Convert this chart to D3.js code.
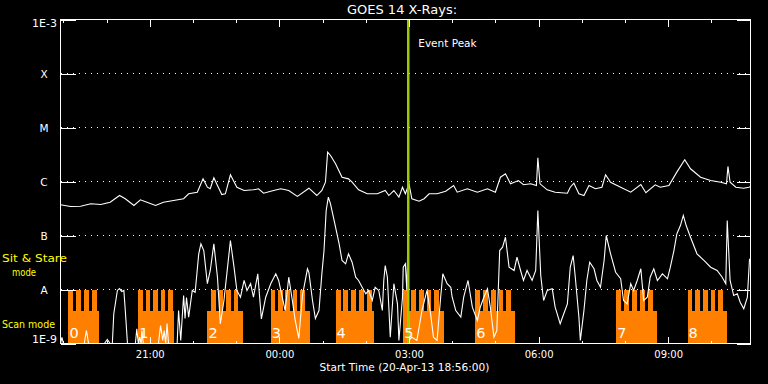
<!DOCTYPE html>
<html><head><meta charset="utf-8">
<script src="https://cdn.jsdelivr.net/npm/d3@7"></script>
<style>
html,body{margin:0;padding:0;background:#000;}
svg{display:block;}
text{font-family:"DejaVu Sans",sans-serif;fill:#fff;}
</style></head><body>
<script>
// ---------- data ----------
const title = "GOES 14 X-Rays:";
const startTime = "18:56:00";
const endTime = "10:54:20";
const eventPeak = "02:59";
const yTickValues = [1e-9, 1e-8, 1e-7, 1e-6, 1e-5, 1e-4, 1e-3];
const yTickLabels = ["1E-9", "A", "B", "C", "M", "X", "1E-3"];
const majorTimeTicks = ["21:00", "00:00", "03:00", "06:00", "09:00"];
const minorTimeTicks = ["19:00","20:00","22:00","23:00","01:00","02:00","04:00","05:00","07:00","08:00","10:00"];

const longTimes = ["18:56","19:10","19:24","19:38","19:52","20:05","20:18","20:26","20:38","20:47","20:56","21:08","21:19","21:33","21:47","21:54","22:06","22:10","22:14","22:20","22:24","22:29","22:34","22:40","22:45","22:52","23:01","23:11","23:24","23:31","23:38","23:52","00:02","00:13","00:25","00:41","00:52","00:59","01:04","01:07","01:11","01:18","01:27","01:36","01:41","01:50","02:02","02:16","02:27","02:32","02:39","02:46","02:51","02:55","03:00","03:04","03:14","03:21","03:28","03:39","03:51","04:02","04:07","04:21","04:35","04:49","05:00","05:07","05:14","05:21","05:32","05:39","05:49","05:57","05:59","06:02","06:12","06:23","06:40","06:44","06:49","06:56","07:03","07:10","07:19","07:28","07:33","07:40","07:54","08:08","08:22","08:29","08:42","08:49","09:01","09:12","09:23","09:31","09:45","09:59","10:13","10:21","10:23","10:26","10:34","10:45","10:52","10:54"];
const longFlux = [3.7e-7,3.44e-7,3.49e-7,3.86e-7,3.75e-7,4.14e-7,5.5e-7,4.79e-7,3.6e-7,4.58e-7,4.14e-7,3.6e-7,4.14e-7,4.45e-7,4.79e-7,5.92e-7,6.34e-7,8.43e-7,1.12e-6,7.84e-7,7.33e-7,1.17e-6,8.43e-7,5.74e-7,5.92e-7,1.33e-6,7.84e-7,6.81e-7,7.02e-7,7.33e-7,6.07e-7,6.81e-7,7.33e-7,6.81e-7,5.3e-7,7.52e-7,5.5e-7,6.81e-7,9.7e-7,3.49e-6,3.03e-6,2.13e-6,1.2e-6,1.12e-6,9.7e-7,7.02e-7,5.92e-7,5.92e-7,6.81e-7,5.5e-7,6.81e-7,5.12e-7,7.84e-7,5.92e-7,9.06e-7,4.79e-7,4.32e-7,4.79e-7,5.92e-7,5.92e-7,6.61e-7,8.43e-7,6.34e-7,7.33e-7,6.34e-7,7.33e-7,6.34e-7,1.2e-6,1.39e-6,9.06e-7,1.04e-6,8.69e-7,9.06e-7,8.43e-7,2.75e-6,9.06e-7,7.02e-7,6.34e-7,6.07e-7,7.84e-7,9.3e-7,5.92e-7,5.5e-7,8.43e-7,7.33e-7,7.84e-7,1.33e-6,9.7e-7,7.84e-7,6.34e-7,8.8e-7,6.18e-7,8.69e-7,7.84e-7,8.43e-7,1.49e-6,2.52e-6,1.72e-6,1.2e-6,1.04e-6,9.7e-7,9.06e-7,1.9e-6,9.7e-7,7.84e-7,7.52e-7,7.84e-7,8.0e-7];

const shortTimes = ["18:56","18:58","19:00","19:29","19:32","19:35","19:57","20:01","20:05","20:08","20:10","20:15","20:18","20:21","20:24","20:26","20:29","20:40","20:42","20:44","20:46","20:48","20:49","20:51","21:12","21:15","21:18","21:20","21:22","21:24","21:26","21:38","21:40","21:43","21:47","21:49","21:51","21:54","21:59","22:03","22:08","22:11","22:15","22:20","22:24","22:29","22:34","22:38","22:43","22:47","22:52","22:57","23:01","23:06","23:11","23:15","23:20","23:24","23:30","23:35","23:41","23:48","23:55","23:59","00:04","00:08","00:13","00:18","00:22","00:27","00:32","00:39","00:41","00:46","00:50","00:55","00:59","01:02","01:05","01:08","01:11","01:16","01:23","01:27","01:32","01:36","01:41","01:46","01:50","01:55","02:00","02:04","02:09","02:13","02:18","02:23","02:25","02:27","02:30","02:34","02:39","02:44","02:46","02:51","02:52","02:55","02:57","02:58","03:00","03:04","03:11","03:18","03:25","03:30","03:34","03:39","03:44","03:47","03:53","03:58","04:00","04:05","04:12","04:16","04:22","04:28","04:35","04:39","04:44","04:49","04:53","04:58","05:02","05:06","05:10","05:14","05:19","05:26","05:30","05:35","05:39","05:44","05:51","05:56","05:59","06:03","06:07","06:12","06:19","06:23","06:30","06:35","06:40","06:44","06:48","06:51","06:56","06:58","07:03","07:07","07:11","07:17","07:21","07:26","07:31","07:34","07:40","07:47","07:54","07:58","08:03","08:08","08:12","08:17","08:22","08:26","08:31","08:35","08:40","08:45","08:52","08:59","09:03","09:08","09:12","09:17","09:21","09:25","09:31","09:40","09:50","09:59","10:08","10:15","10:20","10:22","10:26","10:31","10:36","10:40","10:45","10:50","10:53"];
const shortFlux = [1e-9,1.3e-9,1e-9,1e-9,1.74e-9,1e-9,1e-9,1.19e-9,1e-9,1e-9,3.55e-9,9.6e-9,1.04e-8,9.2e-9,9.6e-9,4.08e-9,1e-9,1e-9,1.87e-9,1e-9,1.31e-9,1e-9,1.74e-9,1e-9,1e-9,2.15e-9,1.14e-9,1.74e-9,1e-9,2.35e-9,1e-9,1e-9,4.08e-9,1.14e-9,7.74e-9,2.9e-9,7.1e-9,3.07e-9,9.6e-9,8.9e-9,4.58e-8,7.0e-8,5.27e-8,1.28e-8,2.25e-8,7.0e-8,1.69e-8,2.32e-9,6.25e-9,1.95e-8,8.07e-8,2.59e-8,9.6e-9,7.2e-9,1.47e-8,9.6e-9,1.28e-8,7.2e-9,1.95e-8,2.86e-9,7.2e-9,1.28e-8,1.95e-8,1.47e-8,7.2e-9,4.08e-9,1.69e-8,6.25e-9,2.67e-9,1.24e-9,7.74e-9,2.42e-8,2.07e-8,6.25e-9,2.9e-9,4.08e-9,1.95e-8,5.27e-8,2.9e-7,5.12e-7,3.86e-7,1.9e-7,7.0e-8,3.44e-8,2.99e-8,4.58e-8,3.2e-8,1.69e-8,1.47e-8,1.1e-8,8.3e-9,9.6e-9,6.25e-9,1.1e-8,9.6e-9,4.08e-9,1.47e-8,2.78e-8,1.69e-8,1.31e-9,1.28e-8,5.43e-9,1.14e-9,7.2e-9,2.59e-8,2.99e-8,9.6e-9,3.96e-8,1.14e-9,1.31e-9,1.14e-9,4.08e-9,9.6e-9,3.55e-9,1.31e-9,1.14e-9,7.2e-9,1.95e-8,1.28e-8,1.1e-8,7.2e-9,4.08e-9,3.07e-9,7.2e-9,1.47e-8,4.7e-9,2.67e-9,4.7e-9,7.2e-9,1.03e-8,4.7e-9,1.31e-9,1.74e-9,5.27e-8,6.07e-8,9.3e-8,2.59e-8,2.25e-8,3.96e-8,2.25e-8,1.47e-8,2.25e-8,1.47e-8,2.25e-8,2.9e-7,1.82e-8,6.25e-9,9.6e-9,1.03e-8,4.7e-9,2.32e-9,3.55e-9,5.43e-9,2.59e-8,4.26e-8,1.69e-8,3.07e-9,1.14e-9,4.08e-9,1.47e-8,3.2e-8,2.42e-8,1.47e-8,1.1e-8,3.44e-8,1.0e-7,4.58e-8,2.09e-8,1.58e-8,6.25e-9,5.43e-9,1.28e-8,9.6e-9,1.47e-8,2.42e-8,6.25e-9,7.2e-9,1.69e-8,2.42e-8,1.47e-8,1.95e-8,1.58e-8,2.59e-8,5.27e-8,1.07e-7,1.53e-7,2.35e-7,1.53e-7,9.3e-8,4.58e-8,3.44e-8,2.59e-8,2.25e-8,1.69e-8,1.28e-8,1.9e-7,1.47e-8,7.74e-9,8.3e-9,5.82e-9,4.4e-9,7.2e-9,3.7e-8];

// scan-mode intervals
const blockLabels = ["0","1","2","3","4","5","6","7","8"];
const blockStarts = ["19:07","20:44","22:20","23:48","01:18","02:52","04:32","07:48","09:27"];
const blockEnds   = ["19:50","21:33","23:09","00:42","02:12","03:49","05:27","08:45","10:22"];
const teethStarts = ["19:07","20:44","22:25","23:48","01:18","02:52","04:32","07:48","09:27"];
const teethEnds   = ["19:46","21:32","23:03","00:35","02:09","03:42","05:22","08:39","10:16"];
const teethCounts = [4,5,4,5,5,5,5,5,5];

const modeLabels = ["Sit & Stare", "mode", "Scan mode"];

// ---------- helpers ----------
function parseClock(s) {
  const p = s.split(":").map(Number);
  const day = p[0] >= 18 ? 20 : 21;
  return new Date(2013, 3, day, p[0], p[1], p[2] || 0);
}

const W = 768, H = 384;
const L = 60.5, R = 750.5, T = 19.5, B = 343.5;
const orange = "#ff8000";

const svg = d3.select("body").append("svg").attr("width", W).attr("height", H);
svg.append("rect").attr("width", W).attr("height", H).attr("fill", "#000");

const x = d3.scaleTime().domain([parseClock(startTime), parseClock(endTime)]).range([L, R]);
const y = d3.scaleLog().domain([1e-9, 1e-3]).range([B, T]);
const yc = v => y(Math.max(1e-9, Math.min(1e-3, v)));

// ---------- scan-mode blocks ----------
const gBlocks = svg.append("g").attr("shape-rendering", "crispEdges");
const combTop = y(1e-8), combBase = y(1e-8) + 21;
blockLabels.forEach((lab, i) => {
  const x0 = x(parseClock(blockStarts[i])), x1 = x(parseClock(blockEnds[i]));
  gBlocks.append("rect").attr("x", x0).attr("y", combBase).attr("width", x1 - x0)
    .attr("height", B - combBase).attr("fill", orange);
  const t0 = x(parseClock(teethStarts[i])), t1 = x(parseClock(teethEnds[i]));
  const n = teethCounts[i], ratio = 0.6;
  const w = (t1 - t0) / (n + ratio * (n - 1)), g = w * ratio;
  d3.range(n).forEach(k => {
    gBlocks.append("rect").attr("x", t0 + k * (w + g)).attr("y", combTop)
      .attr("width", w).attr("height", combBase - combTop + 1).attr("fill", orange);
  });
});

// ---------- gridlines ----------
svg.append("g").selectAll("line").data(yTickValues.slice(1, -1)).join("line")
  .attr("x1", L).attr("x2", R).attr("y1", d => y(d)).attr("y2", d => y(d))
  .attr("stroke", "#fff").attr("stroke-width", 1).attr("stroke-dasharray", "1,5")
  .attr("shape-rendering", "crispEdges");

// ---------- curves ----------
const line = d3.line().x(d => x(d[0])).y(d => yc(d[1]));
const longData = longTimes.map((t, i) => [parseClock(t), longFlux[i]]);
const shortData = shortTimes.map((t, i) => [parseClock(t), shortFlux[i]]);
svg.append("path").datum(longData).attr("d", line).attr("fill", "none")
  .attr("stroke", "#fff").attr("stroke-width", 1.1);
svg.append("path").datum(shortData).attr("d", line).attr("fill", "none")
  .attr("stroke", "#fff").attr("stroke-width", 1.1);

// ---------- event peak ----------
const xp = x(parseClock(eventPeak));
svg.append("line").attr("x1", xp).attr("x2", xp).attr("y1", T).attr("y2", B)
  .attr("stroke", "#9acd00").attr("stroke-width", 2.5);
svg.append("text").attr("x", xp + 10).attr("y", 47).attr("font-size", 10.5).text("Event Peak");

// ---------- block numbers ----------
blockLabels.forEach((lab, i) => {
  svg.append("text").attr("x", x(parseClock(blockStarts[i])) + 1).attr("y", 338)
    .attr("font-family", "Liberation Sans, sans-serif").attr("font-size", 14.5).text(lab);
});

// ---------- axes ----------
const axisStyle = g => {
  g.select(".domain").remove();
  g.selectAll(".tick line").attr("stroke", "#fff").attr("shape-rendering", "crispEdges");
  g.selectAll(".tick text").attr("fill", "#fff").attr("font-family", "DejaVu Sans").attr("font-size", 10);
};
const majors = majorTimeTicks.map(parseClock), minors = minorTimeTicks.map(parseClock);
svg.append("g").attr("transform", `translate(0,${B})`)
  .call(d3.axisBottom(x).tickValues(majors).tickSizeInner(-7).tickSizeOuter(0).tickPadding(7)
    .tickFormat(d3.timeFormat("%H:%M"))).call(axisStyle);
svg.append("g").attr("transform", `translate(0,${B})`)
  .call(d3.axisBottom(x).tickValues(minors).tickSizeInner(-3).tickSizeOuter(0).tickFormat("")).call(axisStyle);
svg.append("g").attr("transform", `translate(0,${T})`)
  .call(d3.axisTop(x).tickValues(majors).tickSizeInner(-7).tickSizeOuter(0).tickFormat("")).call(axisStyle);
svg.append("g").attr("transform", `translate(0,${T})`)
  .call(d3.axisTop(x).tickValues(minors).tickSizeInner(-3).tickSizeOuter(0).tickFormat("")).call(axisStyle);
svg.append("g").attr("transform", `translate(${L},0)`)
  .call(d3.axisLeft(y).tickValues(yTickValues).tickSizeInner(-15).tickSizeOuter(0).tickFormat("")).call(axisStyle);
svg.append("g").attr("transform", `translate(${R},0)`)
  .call(d3.axisRight(y).tickValues(yTickValues).tickSizeInner(-14).tickSizeOuter(0).tickFormat("")).call(axisStyle);

// y labels
yTickValues.forEach((v, i) => {
  const ends = i === 0 || i === yTickValues.length - 1;
  let yy = y(v) + 4;
  if (i === yTickValues.length - 1) yy = y(v) + 7.5;
  if (i === 0) yy = y(v) - 0.5;
  svg.append("text").attr("x", ends ? 57 : 44).attr("y", yy)
    .attr("text-anchor", ends ? "end" : "middle").attr("font-size", ends ? 11 : 10.5).text(yTickLabels[i]);
});

// frame
svg.append("rect").attr("x", L).attr("y", T).attr("width", R - L).attr("height", B - T)
  .attr("fill", "none").attr("stroke", "#fff").attr("stroke-width", 1).attr("shape-rendering", "crispEdges");

// titles
svg.append("text").attr("x", 402).attr("y", 14).attr("text-anchor", "middle").attr("font-size", 13).text(title);
svg.append("text").attr("x", 404.5).attr("y", 371).attr("text-anchor", "middle").attr("font-size", 10.6)
  .text("Start Time (20-Apr-13 " + startTime + ")");

// mode labels (yellow)
svg.append("text").attr("x", 2).attr("y", 262).attr("font-size", 10.5).style("fill", "#ffff00")
  .attr("textLength", 65).attr("lengthAdjust", "spacingAndGlyphs").text(modeLabels[0]);
svg.append("text").attr("x", 12).attr("y", 276).attr("font-size", 10.5).style("fill", "#ffff00")
  .attr("textLength", 24).attr("lengthAdjust", "spacingAndGlyphs").text(modeLabels[1]);
svg.append("text").attr("x", 2).attr("y", 328).attr("font-size", 10.5).style("fill", "#ffff00")
  .attr("textLength", 53).attr("lengthAdjust", "spacingAndGlyphs").text(modeLabels[2]);
</script>
</body></html>
